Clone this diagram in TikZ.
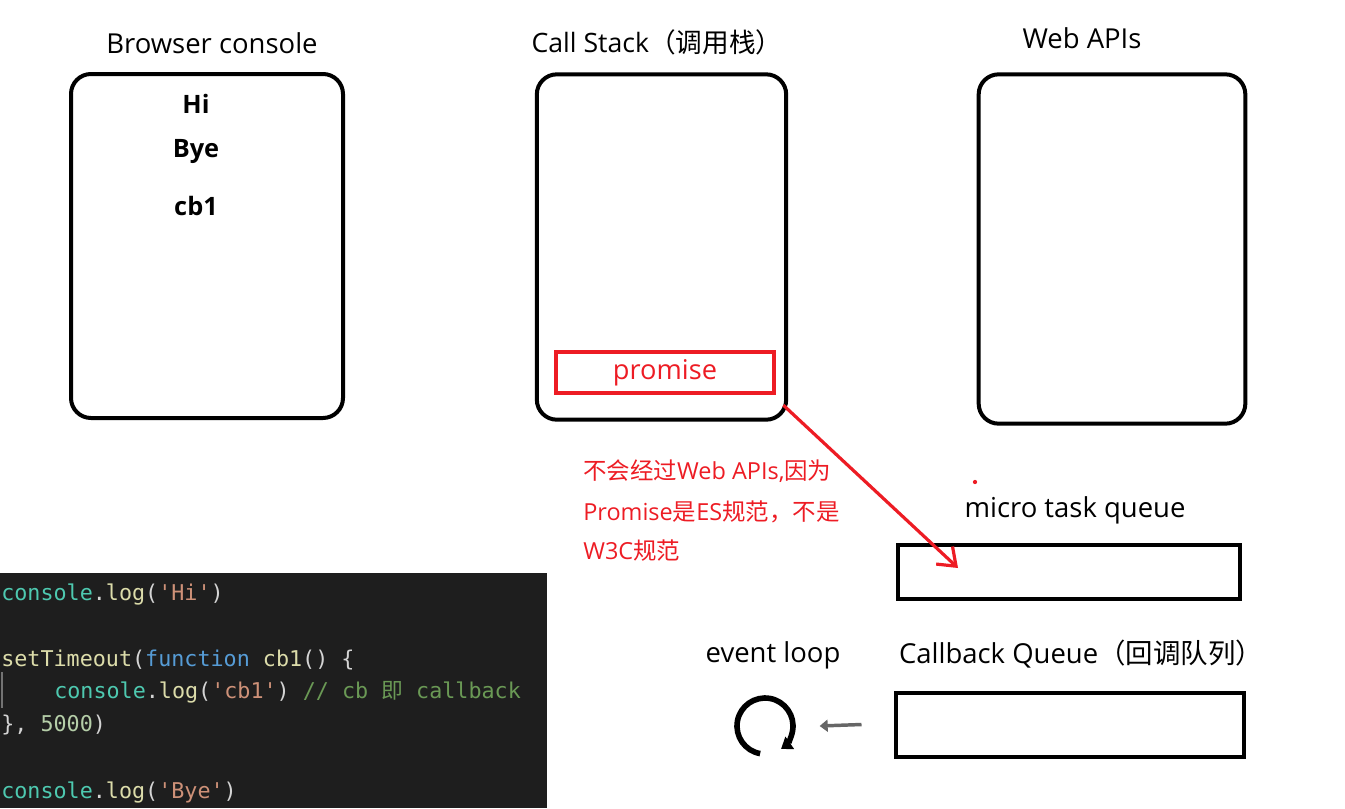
\documentclass[tikz,border=0pt]{standalone}
\usepackage{fontspec}
\usepackage{xcolor}
\usepackage{tikz}
\usetikzlibrary{positioning,arrows.meta}
\setmainfont{Open Sans}
\setmonofont{DejaVu Sans Mono}
\newfontfamily\cjk{Noto Sans CJK SC}

\definecolor{jsred}{HTML}{ED1C24}
\definecolor{codebg}{HTML}{1E1E1E}
\definecolor{cteal}{HTML}{4EC9B0}
\definecolor{cyel}{HTML}{DCDCAA}
\definecolor{cstr}{HTML}{CE9178}
\definecolor{cblue}{HTML}{569CD6}
\definecolor{cgreen}{HTML}{6A9955}
\definecolor{cnum}{HTML}{B5CEA8}
\definecolor{cplain}{HTML}{D4D4D4}
\newcommand{\cc}[2]{\textcolor{#1}{#2}}
\newcommand{\sq}{\char39\relax}
\newcommand{\zh}[1]{{\cjk #1}}

\tikzset{
  panel/.style={draw=black, line width=3pt, rounded corners=15pt, inner sep=0pt},
  queue/.style={draw=black, line width=3pt, inner sep=0pt},
  title/.style={font=\fontsize{20.6}{24}\selectfont, inner sep=0pt},
  printed/.style={font=\fontsize{19}{22}\selectfont\bfseries, inner sep=0pt},
  note/.style={font=\fontsize{17.6}{20}\selectfont, text=jsred, anchor=west, inner sep=0pt},
  code/.style={font=\fontsize{16.3}{19}\ttfamily, text=cplain, anchor=base west, inner sep=0pt}
}

\begin{document}
\begin{tikzpicture}[x=0.75pt, y=-0.75pt]
\useasboundingbox (0,0) rectangle (1345,808);

% the three panels
\node[panel, minimum width=204pt, minimum height=258pt] (console) at (207,246) {};
\node[panel, minimum width=187pt, minimum height=259pt] (stack) at (661.5,247) {};
\node[panel, minimum width=200pt, minimum height=262pt] (webapi) at (1112,249) {};
\node[title] (consoleT) at (212,43) {Browser console};
\node[title, font=\fontsize{20}{24}\selectfont] (stackT) at (657,42) {Call Stack\zh{（调用栈）}};
\node[title] (webapiT) at (1082,38) {Web APIs};

% console output
\node[printed] (hi) at (196,104) {Hi};
\node[printed] (bye) at (196,151) {Bye};
\node[printed] (cbone) at (196,206) {cb1};

% promise on the stack
\node[draw=jsred, line width=3pt, minimum width=164pt, minimum height=31pt, inner sep=0pt,
  text=jsred, font=\fontsize{20.4}{24}\selectfont] (promise) at (665,372.5) {promise};

% queues
\node[queue, minimum width=257pt, minimum height=41pt] (micro) at (1069,572) {};
\node[queue, minimum width=261pt, minimum height=48pt] (cbq) at (1069.5,724.5) {};
\node[title] (microT) at (1075,510) {micro task queue};
\node[title] (cbqT) at (1081,654) {Callback Queue\zh{（回调队列）}};

% note
\node[note] (n1) at (583,471) {\zh{不会经过}Web APIs,\zh{因为}};
\node[note] (n2) at (583,512) {Promise\zh{是}ES\zh{规范，不是}};
\node[note] (n3) at (583,551) {W3C\zh{规范}};
\fill[jsred] (975,482) circle (1.6pt);

\coordinate (mqtip) at (958,568);
\draw[jsred, line width=2.4pt, -{Straight Barb[length=12pt, width=18pt, line width=2.4pt]}]
  ([shift={(7,10)}]promise.south east) -- (mqtip);

% event loop
\node[title] (loopT) at (773,655) {event loop};
\coordinate (loop) at (765,726);
\draw[black, line width=4.2pt, -{Triangle[length=8pt, width=11pt]}]
  ([shift={(100:28)}]loop) arc[start angle=100, end angle=415, radius=28];
\draw[black!60, line width=2.6pt, -{Triangle[length=6pt, width=9pt]}]
  ([xshift=-24pt]cbq.west) -- ([xshift=41pt]loop);

% code
\fill[codebg] (0,573) rectangle (547,808);
\draw[black!55, line width=1pt] (2,672) -- (2,708);
\node[code] (c1) at (1,600) {\cc{cteal}{console}.\cc{cyel}{log}(\cc{cstr}{\sq Hi\sq})};
\node[code] (c2) at (1,666) {\cc{cyel}{setTimeout}(\cc{cblue}{function} \cc{cyel}{cb1}() \{};
\node[code] (c3) at (54,698) {\cc{cteal}{console}.\cc{cyel}{log}(\cc{cstr}{\sq cb1\sq}) \cc{cgreen}{// cb {\cjk 即} callback}};
\node[code] (c4) at (1,731) {\}, \cc{cnum}{5000})};
\node[code] (c5) at (1,798) {\cc{cteal}{console}.\cc{cyel}{log}(\cc{cstr}{\sq Bye\sq})};
\end{tikzpicture}
\end{document}
